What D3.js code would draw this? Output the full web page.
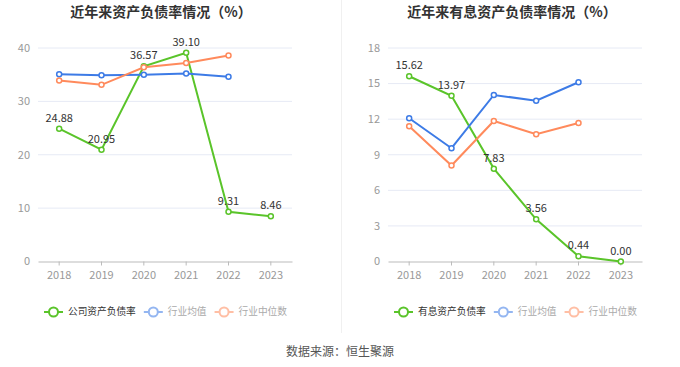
<!DOCTYPE html>
<html>
<head>
<meta charset="utf-8">
<script src="https://cdn.jsdelivr.net/npm/d3@7"></script>
<style>
  body { margin: 0; background: #fff; font-family: "Noto Sans CJK SC", "Noto Sans", sans-serif; }
  svg { display: block; }
</style>
</head>
<body>
<svg id="chart" width="680" height="367"></svg>
<script>
const years = ['2018', '2019', '2020', '2021', '2022', '2023'];

// left: 资产负债率
const companyDebt = [24.88, 20.95, 36.57, 39.10, 9.31, 8.46];
const industryAvgDebt = [35.1, 34.9, 35.0, 35.2, 34.6];
const industryMedDebt = [33.9, 33.1, 36.4, 37.2, 38.6];
const leftTicks = [0, 10, 20, 30, 40];

// right: 有息资产负债率
const interestDebt = [15.62, 13.97, 7.83, 3.56, 0.44, 0.00];
const industryAvgInterest = [12.08, 9.55, 14.04, 13.56, 15.11];
const industryMedInterest = [11.4, 8.09, 11.85, 10.73, 11.68];
const rightTicks = [0, 3, 6, 9, 12, 15, 18];

const GREEN = '#5ac42a', BLUE = '#3d7be6', ORANGE = '#ff8a5c';
const svg = d3.select('#chart');

function drawPanel(opts) {
    const g = svg.append('g');
    const x = d3.scaleBand().domain(years).range([opts.x0, opts.x1]);
    const y = d3.scaleLinear().domain([0, opts.max]).range([261.5, 48]);

    g.append('text')
        .attr('x', opts.titleX).attr('y', 17)
        .attr('text-anchor', 'middle')
        .attr('font-size', 14).attr('font-weight', 'bold')
        .attr('fill', '#333')
        .text(opts.title);

    // grid
    g.selectAll('.grid').data(opts.ticks.filter(d => d > 0)).enter().append('line')
        .attr('x1', opts.x0).attr('x2', opts.x1)
        .attr('y1', d => y(d)).attr('y2', d => y(d))
        .attr('stroke', '#e6eaf5').attr('stroke-width', 1);

    // y labels
    g.selectAll('.ylab').data(opts.ticks).enter().append('text')
        .attr('x', opts.x0 - 8).attr('y', d => y(d)).attr('dy', '0.35em')
        .attr('text-anchor', 'end').attr('font-size', 11).attr('fill', '#999')
        .text(d => d);

    // x axis
    const xAxis = g.append('g')
        .attr('transform', `translate(0,${y(0)})`)
        .call(d3.axisBottom(x).tickSize(4).tickSizeOuter(0));
    xAxis.select('.domain').attr('stroke', '#bbb');
    xAxis.selectAll('.tick line').attr('stroke', '#bbb');
    xAxis.selectAll('.tick text').attr('fill', '#999').attr('font-size', 11)
        .attr('dy', '0.95em').style('font-family', '"Noto Sans CJK SC", sans-serif');

    const cx = (d, i) => x(years[i]) + x.bandwidth() / 2;
    const line = d3.line().x(cx).y(d => y(d));

    opts.series.forEach(s => {
        g.append('path').datum(s.values)
            .attr('d', line).attr('fill', 'none')
            .attr('stroke', s.color).attr('stroke-width', 2);
        g.selectAll(null).data(s.values).enter().append('circle')
            .attr('cx', cx).attr('cy', d => y(d)).attr('r', 2.5)
            .attr('fill', '#fff').attr('stroke', s.color).attr('stroke-width', 1.5);
        if (s.labels) {
            g.selectAll(null).data(s.values).enter().append('text')
                .attr('x', cx).attr('y', d => y(d) - 7)
                .attr('text-anchor', 'middle').attr('font-size', 11).attr('fill', '#333')
                .text(d => d.toFixed(2));
        }
    });

    // legend
    let lx = opts.legendX;
    const ly = 312;
    opts.series.forEach((s, i) => {
        const c = i === 0 ? s.color : d3.interpolateRgb(s.color, '#fff')(0.45);
        const lg = g.append('g');
        lg.append('line').attr('x1', lx).attr('x2', lx + 19).attr('y1', ly).attr('y2', ly)
            .attr('stroke', c).attr('stroke-width', 2);
        lg.append('circle').attr('cx', lx + 9.5).attr('cy', ly).attr('r', 4.5)
            .attr('fill', '#fff').attr('stroke', c).attr('stroke-width', 2);
        const t = lg.append('text').attr('x', lx + 24).attr('y', ly).attr('dy', '0.35em')
            .attr('font-size', 9.7).attr('fill', i === 0 ? '#333' : '#aaa')
            .text(s.name);
        lx += 24 + t.node().getComputedTextLength() + 8;
    });
}

drawPanel({
    title: '近年来资产负债率情况（%）', titleX: 161,
    x0: 38, x1: 292, max: 40, ticks: leftTicks, legendX: 44,
    series: [
        { name: '公司资产负债率', values: companyDebt, color: GREEN, labels: true },
        { name: '行业均值', values: industryAvgDebt, color: BLUE },
        { name: '行业中位数', values: industryMedDebt, color: ORANGE }
    ]
});

drawPanel({
    title: '近年来有息资产负债率情况（%）', titleX: 512,
    x0: 388, x1: 642, max: 18, ticks: rightTicks, legendX: 394,
    series: [
        { name: '有息资产负债率', values: interestDebt, color: GREEN, labels: true },
        { name: '行业均值', values: industryAvgInterest, color: BLUE },
        { name: '行业中位数', values: industryMedInterest, color: ORANGE }
    ]
});

// divider
svg.append('line').attr('x1', 341.5).attr('x2', 341.5).attr('y1', 0).attr('y2', 333)
    .attr('stroke', '#f0f0f0').attr('stroke-width', 1);

svg.append('text').attr('x', 340).attr('y', 352).attr('dy', '0.35em')
    .attr('text-anchor', 'middle').attr('font-size', 12).attr('fill', '#555')
    .text('数据来源：恒生聚源');
</script>
</body>
</html>
